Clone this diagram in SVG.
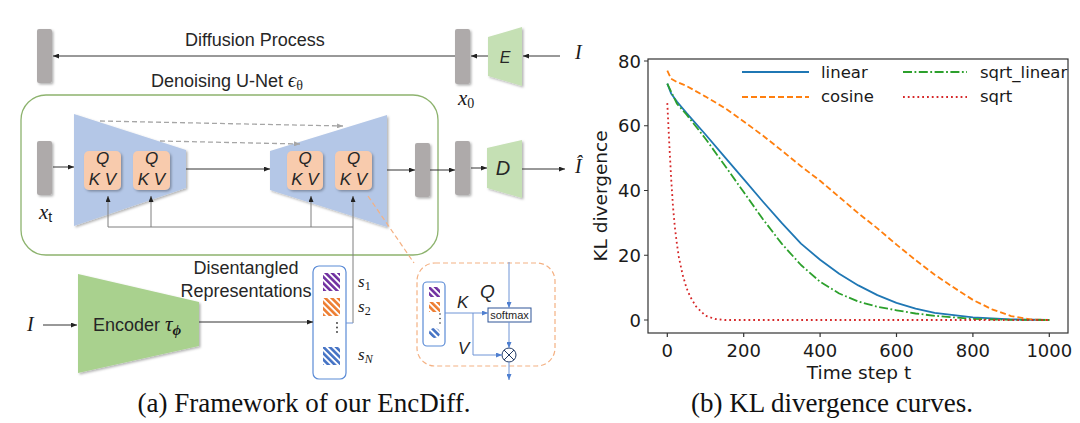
<svg xmlns="http://www.w3.org/2000/svg" width="1080" height="423" viewBox="0 0 1080 423">
<style>
.t{font-family:"Liberation Sans",Arial,sans-serif;fill:#262626}
.m{font-family:"Liberation Serif","Times New Roman",serif;font-style:italic;fill:#1a1a1a}
.mi{font-family:"Liberation Sans",Arial,sans-serif;font-style:italic;fill:#262626}
.cap{font-family:"Liberation Serif","Times New Roman",serif;font-size:27px;fill:#111}
.p{font-family:"DejaVu Sans",sans-serif;fill:#1a1a1a}
.bar{fill:#aeaaaa}
.ln{stroke:#333;stroke-width:1;fill:none}
.gl{stroke:#7f7f7f;stroke-width:1;fill:none}
.bl{stroke:#6f94d6;stroke-width:1;fill:none}
.qkv{fill:#f8cbad}
.cv{fill:none;stroke-width:1.8;stroke-linejoin:round}
</style>
<defs>
<filter id="sh" x="-30%" y="-30%" width="170%" height="170%"><feDropShadow dx="1.5" dy="1.5" stdDeviation="1" flood-color="#000" flood-opacity="0.3"/></filter>
<marker id="ah" markerWidth="6" markerHeight="5" refX="6" refY="2.5" orient="auto" markerUnits="userSpaceOnUse"><path d="M0,0 L6,2.5 L0,5 z" fill="#222"/></marker>
<marker id="ag" markerWidth="6" markerHeight="5" refX="6" refY="2.5" orient="auto" markerUnits="userSpaceOnUse"><path d="M0,0 L6,2.5 L0,5 z" fill="#a6a6a6"/></marker>
<marker id="ab" markerWidth="6" markerHeight="5" refX="6" refY="2.5" orient="auto" markerUnits="userSpaceOnUse"><path d="M0,0 L6,2.5 L0,5 z" fill="#4f7fd0"/></marker>
<pattern id="hp" width="4.5" height="4.5" patternUnits="userSpaceOnUse" patternTransform="rotate(-45)"><rect width="4.5" height="4.5" fill="#fff"/><rect width="2.6" height="4.5" fill="#7030a0"/></pattern>
<pattern id="ho" width="4.5" height="4.5" patternUnits="userSpaceOnUse" patternTransform="rotate(-45)"><rect width="4.5" height="4.5" fill="#fff"/><rect width="2.6" height="4.5" fill="#ed7d31"/></pattern>
<pattern id="hb" width="4.5" height="4.5" patternUnits="userSpaceOnUse" patternTransform="rotate(-45)"><rect width="4.5" height="4.5" fill="#fff"/><rect width="2.6" height="4.5" fill="#4472c4"/></pattern>
</defs>

<!-- Top row -->
<g id="noise-bar"><rect class="bar" x="37" y="29" width="15" height="54" rx="2" filter="url(#sh)"/></g>
<g id="x0-bar"><rect class="bar" x="455" y="29" width="15" height="55" rx="2" filter="url(#sh)"/>
<text class="m" x="458" y="105" font-size="21">x<tspan font-style="normal" font-size="14" dy="3">0</tspan></text></g>
<g id="E"><polygon points="488,37 522,27 522,86 488,76" fill="#c5e0b4" filter="url(#sh)"/>
<text class="mi" x="505" y="63" font-size="16" text-anchor="middle">E</text></g>
<g id="I-top"><text class="m" x="575" y="59" font-size="20">I</text></g>
<g id="diffusion-label"><text class="t" x="185" y="46" font-size="18">Diffusion Process</text></g>
<g id="unet-label"><text class="t" x="151" y="87" font-size="18">Denoising U-Net <tspan class="m" font-size="20">ϵ</tspan><tspan font-family="Liberation Serif" font-size="14" dy="3">θ</tspan></text></g>

<!-- U-Net container -->
<g id="unet"><rect x="21" y="95" width="417" height="160" rx="25" fill="none" stroke="#8db36e" stroke-width="1.3"/></g>

<g id="xt-bar"><rect class="bar" x="37" y="141" width="15" height="54" rx="2" filter="url(#sh)"/>
<text class="m" x="39" y="219" font-size="21">x<tspan font-family="Liberation Sans" font-style="normal" font-size="14" dy="3">t</tspan></text></g>

<g id="unet-down"><polygon points="74,114 186,150 186,188 74,226" fill="#b4c7e7" filter="url(#sh)"/></g>
<g id="qkv1"><rect class="qkv" x="84" y="151" width="37" height="39" rx="5" filter="url(#sh)"/>
<text class="mi" x="102.5" y="164" font-size="17" text-anchor="middle">Q</text><text class="mi" x="102.5" y="185" font-size="17" text-anchor="middle">K V</text></g>
<g id="qkv2"><rect class="qkv" x="133" y="151" width="37" height="39" rx="5" filter="url(#sh)"/>
<text class="mi" x="151.5" y="164" font-size="17" text-anchor="middle">Q</text><text class="mi" x="151.5" y="185" font-size="17" text-anchor="middle">K V</text></g>

<g id="unet-up"><polygon points="270,151 387,115 387,227 270,190" fill="#b4c7e7" filter="url(#sh)"/></g>
<g id="qkv3"><rect class="qkv" x="287" y="151" width="36" height="39" rx="5" filter="url(#sh)"/>
<text class="mi" x="305" y="164" font-size="17" text-anchor="middle">Q</text><text class="mi" x="305" y="185" font-size="17" text-anchor="middle">K V</text></g>
<g id="qkv4"><rect class="qkv" x="335" y="151" width="37" height="39" rx="5" filter="url(#sh)"/>
<text class="mi" x="353.5" y="164" font-size="17" text-anchor="middle">Q</text><text class="mi" x="353.5" y="185" font-size="17" text-anchor="middle">K V</text></g>

<g id="out-bar1"><rect class="bar" x="415" y="143" width="15" height="54" rx="2" filter="url(#sh)"/></g>
<g id="out-bar2"><rect class="bar" x="455" y="141" width="15" height="54" rx="2" filter="url(#sh)"/></g>
<g id="D"><polygon points="487,148 522,140 522,198 487,188" fill="#c5e0b4" filter="url(#sh)"/>
<text class="mi" x="503" y="175" font-size="20" text-anchor="middle">D</text></g>
<g id="I-hat"><text class="m" x="575" y="173" font-size="20">Î</text></g>

<!-- Encoder -->
<g id="I-in"><text class="m" x="27" y="331" font-size="20">I</text></g>
<g id="encoder"><polygon points="78,274 199,302 199,346 78,373" fill="#a9d18e" filter="url(#sh)"/>
<text class="t" x="93" y="331" font-size="18">Encoder</text>
<text class="m" x="165" y="331" font-size="21">τ<tspan font-size="15" dy="4" font-weight="bold">ϕ</tspan></text></g>
<g id="disent-label"><text class="t" x="246" y="274" font-size="18" text-anchor="middle">Disentangled</text>
<text class="t" x="246" y="297" font-size="18" text-anchor="middle">Representations</text></g>

<g id="reps"><rect x="313" y="266" width="33" height="113" rx="6" fill="#fff" stroke="#5b8bd6" stroke-width="1.2"/>
<rect x="323" y="273" width="17" height="18" fill="url(#hp)"/>
<rect x="323" y="298" width="17" height="18" fill="url(#ho)"/>
<circle cx="337" cy="323" r="0.9" fill="#333"/><circle cx="337" cy="327.5" r="0.9" fill="#333"/><circle cx="337" cy="332" r="0.9" fill="#333"/>
<rect x="323" y="347" width="17" height="18" fill="url(#hb)"/>
<text class="m" x="358" y="287" font-size="17">s<tspan font-style="normal" font-size="12" dy="3">1</tspan></text>
<text class="m" x="358" y="312" font-size="17">s<tspan font-style="normal" font-size="12" dy="3">2</tspan></text>
<text class="m" x="358" y="360" font-size="17">s<tspan font-size="12" dy="3">N</tspan></text></g>

<!-- Attention detail -->
<g id="attn-detail"><rect x="417" y="263" width="138" height="103" rx="18" fill="none" stroke="#f4b183" stroke-width="1.2" stroke-dasharray="5 3"/>
<rect x="423" y="282" width="22" height="64" rx="4" fill="#fff" stroke="#5b8bd6" stroke-width="1.2"/>
<rect x="429" y="287" width="11" height="10" fill="url(#hp)"/>
<rect x="429" y="302" width="11" height="10" fill="url(#ho)"/>
<circle cx="440" cy="314" r="0.8" fill="#333"/><circle cx="440" cy="318.5" r="0.8" fill="#333"/><circle cx="440" cy="323" r="0.8" fill="#333"/>
<ellipse cx="434.5" cy="333" rx="5.5" ry="5" fill="url(#hb)"/>
<text class="mi" x="457" y="308" font-size="17">K</text>
<text class="mi" x="480" y="298" font-size="19">Q</text>
<text class="mi" x="458" y="354" font-size="17">V</text>
<rect x="488" y="308" width="43" height="14" fill="#fff" stroke="#2f5597" stroke-width="1"/>
<text class="t" x="509.5" y="319" font-size="11" text-anchor="middle">softmax</text>
<circle cx="509" cy="355" r="7" fill="#fff" stroke="#1f3864" stroke-width="1"/>
<path d="M504,350 L514,360 M514,350 L504,360" stroke="#1f3864" stroke-width="1"/></g>

<!-- Connectors -->
<g id="connectors">
<line class="ln" x1="455" y1="56" x2="53" y2="56" marker-end="url(#ah)"/>
<line class="ln" x1="560" y1="56" x2="523" y2="56" marker-end="url(#ah)"/>
<line class="ln" x1="488" y1="56" x2="471" y2="56" marker-end="url(#ah)"/>
<line class="ln" x1="53" y1="167" x2="74" y2="167" marker-end="url(#ah)"/>
<line class="ln" x1="186" y1="169" x2="270" y2="169" marker-end="url(#ah)"/>
<line class="ln" x1="387" y1="170" x2="415" y2="170" marker-end="url(#ah)"/>
<line class="ln" x1="430" y1="170" x2="455" y2="170" marker-end="url(#ah)"/>
<line class="ln" x1="471" y1="168" x2="487" y2="168" marker-end="url(#ah)"/>
<line class="ln" x1="522" y1="169" x2="565" y2="169" marker-end="url(#ah)"/>
<line x1="100" y1="121" x2="343" y2="126" stroke="#a6a6a6" stroke-width="1.3" stroke-dasharray="5 3" marker-end="url(#ag)"/>
<line x1="160" y1="141" x2="300" y2="144" stroke="#a6a6a6" stroke-width="1.3" stroke-dasharray="5 3" marker-end="url(#ag)"/>
<polyline class="gl" points="108,227 353,227"/>
<line class="gl" x1="108" y1="227" x2="108" y2="196" marker-end="url(#ah)"/>
<line class="gl" x1="151" y1="227" x2="151" y2="196" marker-end="url(#ah)"/>
<line class="gl" x1="311" y1="227" x2="311" y2="196" marker-end="url(#ah)"/>
<line class="gl" x1="353" y1="323" x2="353" y2="196" marker-end="url(#ah)"/>
<line class="bl" x1="346" y1="323" x2="353" y2="323"/>
<line class="ln" x1="43" y1="325" x2="77" y2="325" marker-end="url(#ah)"/>
<line class="ln" x1="199" y1="322" x2="313" y2="322" marker-end="url(#ah)"/>
<line x1="368" y1="196" x2="414" y2="263" stroke="#f4b183" stroke-width="1.2" stroke-dasharray="5 3"/>
<line class="bl" x1="445" y1="313" x2="488" y2="313" marker-end="url(#ab)"/>
<line class="bl" x1="509" y1="262" x2="509" y2="308" marker-end="url(#ab)"/>
<polyline class="bl" points="473,313 473,355 502,355" marker-end="url(#ab)"/>
<line class="bl" x1="509" y1="322" x2="509" y2="348" marker-end="url(#ab)"/>
<line class="bl" x1="509" y1="362" x2="509" y2="380" marker-end="url(#ab)"/>
</g>

<text class="cap" x="304" y="412" text-anchor="middle">(a) Framework of our EncDiff.</text>

<!-- Plot -->
<g id="plot">
<path class="cv" stroke="#1f77b4" d="M667.3,83.7 L671.1,93.4 L676.9,101.5 L686.4,112.8 L705.5,134.5 L724.6,156.8 L743.7,179.2 L762.8,201.5 L781.9,223.2 L801,243.6 L820.1,259.8 L839.2,273.7 L858.3,285.4 L877.4,295.1 L896.5,302.8 L915.6,308.7 L934.7,312.9 L972.9,317.4 L1011.1,319.4 L1049.3,320"/>
<path class="cv" stroke="#ff7f0e" stroke-dasharray="6 3" d="M667.3,70.7 L671.1,78.8 L676.9,82 L686.4,85.9 L705.5,96.6 L724.6,107.9 L743.7,121.5 L762.8,135.5 L781.9,150.7 L801,166.2 L820.1,180.8 L839.2,197 L858.3,213.2 L877.4,228.4 L896.5,244.6 L915.6,260.1 L934.7,274.7 L953.8,287.6 L972.9,299.9 L992,309.3 L1011.1,316.1 L1030.2,319.4 L1049.3,320"/>
<path class="cv" stroke="#2ca02c" stroke-dasharray="9 2.5 1.8 2.5" d="M667.3,83.7 L676.9,103.7 L686.4,114.4 L705.5,138.7 L724.6,165.2 L743.7,192.1 L762.8,219 L781.9,243.9 L801,265 L820.1,281.8 L839.2,293.5 L858.3,301.5 L877.4,306.7 L896.5,310.3 L915.6,313.5 L934.7,315.8 L972.9,318.9 L1011.1,319.8 L1049.3,320"/>
<path class="cv" stroke="#d62728" stroke-dasharray="1.8 3" d="M667.3,103.1 L669.2,142 L671.1,177.6 L673,206.7 L674.9,227.7 L676.9,243.9 L678.8,256.9 L682.6,274.7 L686.4,287.6 L690.2,296.7 L696,306.4 L705.5,315.8 L715.1,319 L724.6,320 L1049.3,320"/>
<rect x="648" y="59" width="420" height="274" fill="none" stroke="#333" stroke-width="1.2"/>
<path d="M644,61 H648 M644,125.75 H648 M644,190.5 H648 M644,255.25 H648 M644,320 H648 M667.3,333 V337 M743.7,333 V337 M820.1,333 V337 M896.5,333 V337 M972.9,333 V337 M1049.3,333 V337" stroke="#333" stroke-width="1.2"/>
<g class="p" font-size="18" text-anchor="end">
<text x="641" y="67.5">80</text><text x="641" y="132">60</text><text x="641" y="197">40</text><text x="641" y="261.5">20</text><text x="641" y="326.5">0</text>
</g>
<g class="p" font-size="18" text-anchor="middle">
<text x="667.3" y="357">0</text><text x="743.7" y="357">200</text><text x="820.1" y="357">400</text><text x="896.5" y="357">600</text><text x="972.9" y="357">800</text><text x="1049.3" y="357">1000</text>
</g>
<text class="p" x="859" y="379" font-size="18.5" text-anchor="middle">Time step t</text>
<text class="p" font-size="18.5" text-anchor="middle" transform="translate(607,196) rotate(-90)">KL divergence</text>
<line x1="742" y1="72" x2="809" y2="72" stroke="#1f77b4" stroke-width="1.8"/>
<line x1="742" y1="97" x2="809" y2="97" stroke="#ff7f0e" stroke-width="1.8" stroke-dasharray="6 3"/>
<line x1="903" y1="72" x2="967" y2="72" stroke="#2ca02c" stroke-width="1.8" stroke-dasharray="9 2.5 1.8 2.5"/>
<line x1="903" y1="97" x2="967" y2="97" stroke="#d62728" stroke-width="1.8" stroke-dasharray="1.8 3"/>
<g class="p" font-size="16.5">
<text x="821" y="78">linear</text><text x="821" y="102">cosine</text><text x="980" y="78">sqrt_linear</text><text x="980" y="102">sqrt</text>
</g>
</g>
<text class="cap" x="832" y="412" text-anchor="middle">(b) KL divergence curves.</text>
</svg>
